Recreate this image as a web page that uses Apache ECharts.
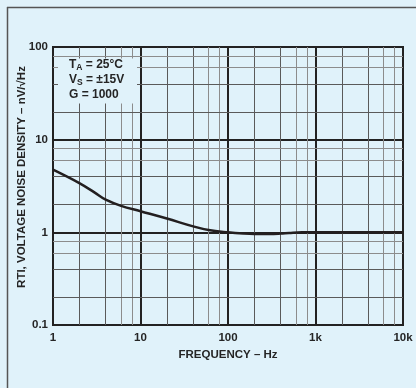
<!DOCTYPE html>
<html>
<head>
<meta charset="utf-8">
<script src="https://cdn.jsdelivr.net/npm/echarts@6/dist/echarts.min.js"></script>
<style>
html,body{margin:0;padding:0;background:#e0f2fa;}
#c{width:416px;height:388px;}
</style>
</head>
<body>
<div id="c"></div>
<script>
// ---- data ----
var freqHz = [1, 2, 3, 4, 6, 10, 20, 40, 60, 100, 150, 200, 300, 400, 500, 700, 1000, 10000];
var noiseDensity = [4.75, 3.4, 2.68, 2.25, 1.93, 1.69, 1.41, 1.16, 1.06, 1.0, 0.97, 0.96, 0.96, 0.97, 0.985, 1.0, 1.0, 1.0];
var xTickValues = [1, 10, 100, 1000, 10000];
var xTickLabels = ['1', '10', '100', '1k', '10k'];
var yTickValues = [0.1, 1, 10, 100];
var yTickLabels = ['0.1', '1', '10', '100'];
var xMinorGrid = [2, 4, 6, 8, 20, 40, 60, 80, 200, 400, 600, 800, 2000, 4000, 6000, 8000];
var yMinorGrid = [0.2, 0.4, 0.6, 0.8, 2, 4, 6, 8, 20, 40, 60, 80];
var xTitle = 'FREQUENCY – Hz';
var yTitle = 'RTI, VOLTAGE NOISE DENSITY – nV/√Hz';

var FONT = '"Liberation Sans", Arial, sans-serif';
var TXT = '#252525';
var FS = 11.5;

function labelFor(v, vals, labels) {
  var lv = Math.log10(v);
  for (var i = 0; i < vals.length; i++) {
    if (Math.abs(Math.log10(vals[i]) - lv) < 1e-6) return labels[i];
  }
  return '';
}
function minorColor(v) {
  var m = v / Math.pow(10, Math.floor(Math.log10(v) + 1e-9));
  return (Math.round(m) <= 4) ? '#5a5a5a' : '#8c8c8c';
}

var minorLines = [];
xMinorGrid.forEach(function (v) {
  minorLines.push({ xAxis: v, lineStyle: { color: minorColor(v), width: 1, type: 'solid' } });
});
yMinorGrid.forEach(function (v) {
  minorLines.push({ yAxis: v, lineStyle: { color: minorColor(v), width: 1, type: 'solid' } });
});

var chart = echarts.init(document.getElementById('c'), null, { renderer: 'canvas' });
chart.setOption({
  backgroundColor: '#e0f2fa',
  animation: false,
  grid: { left: 53, right: 13, top: 47, bottom: 63, show: true, borderColor: '#222', borderWidth: 2, backgroundColor: 'transparent' },
  xAxis: {
    type: 'log', logBase: 10, min: 1, max: 10000,
    name: xTitle, nameLocation: 'middle', nameGap: 24,
    nameTextStyle: { fontFamily: FONT, fontSize: FS, fontWeight: 'bold', color: TXT },
    axisLine: { show: true, lineStyle: { color: '#222', width: 2 } },
    axisTick: { show: false },
    axisLabel: { margin: 7, fontFamily: FONT, fontSize: FS, fontWeight: 'bold', color: TXT,
      formatter: function (v) { return labelFor(v, xTickValues, xTickLabels); } },
    splitLine: { show: true, lineStyle: { color: '#222', width: 2 } },
    minorTick: { show: false }, minorSplitLine: { show: false }
  },
  yAxis: {
    type: 'log', logBase: 10, min: 0.1, max: 100,
    axisLine: { show: true, lineStyle: { color: '#222', width: 2 } },
    axisTick: { show: false },
    axisLabel: { margin: 5, fontFamily: FONT, fontSize: FS, fontWeight: 'bold', color: TXT,
      formatter: function (v) { return labelFor(v, yTickValues, yTickLabels); } },
    splitLine: { show: true, lineStyle: { color: '#222', width: 2 } }
  },
  series: [{
    type: 'line',
    data: freqHz.map(function (f, i) { return [f, noiseDensity[i]]; }),
    smooth: 0.4,
    symbol: 'none',
    lineStyle: { color: '#231f20', width: 2.5 },
    z: 3,
    markLine: {
      silent: true, symbol: 'none', z: 1,
      label: { show: false },
      data: minorLines
    }
  }],
  graphic: [
    { type: 'line', z: 200, shape: { x1: 7, y1: 7.5, x2: 416, y2: 7.5 }, style: { stroke: '#555', lineWidth: 1.5 } },
    { type: 'line', z: 200, shape: { x1: 7.5, y1: 7, x2: 7.5, y2: 388 }, style: { stroke: '#555', lineWidth: 1.5 } },
    { type: 'rect', z: 100, shape: { x: 58, y: 58.5, width: 79, height: 45 }, style: { fill: '#e0f2fa' } },
    {
      type: 'text', z: 101, x: 69, y: 57,
      style: {
        text: '{a|T}{s|A}{a| = 25°C}\n{a|V}{s|S}{a| = ±15V}\n{a|G = 1000}',
        font: 'bold 12px ' + FONT, fill: TXT,
        rich: {
          a: { fontFamily: FONT, fontSize: 12, fontWeight: 'bold', fill: TXT, lineHeight: 15, verticalAlign: 'middle' },
          s: { fontFamily: FONT, fontSize: 8.5, fontWeight: 'bold', fill: TXT, lineHeight: 8, verticalAlign: 'bottom' }
        }
      }
    },
    {
      type: 'text', z: 101, x: 22, y: 177, rotation: Math.PI / 2,
      style: { text: yTitle, font: 'bold ' + FS + 'px ' + FONT, fill: TXT, align: 'center', verticalAlign: 'middle' }
    }
  ]
});
</script>
</body>
</html>
